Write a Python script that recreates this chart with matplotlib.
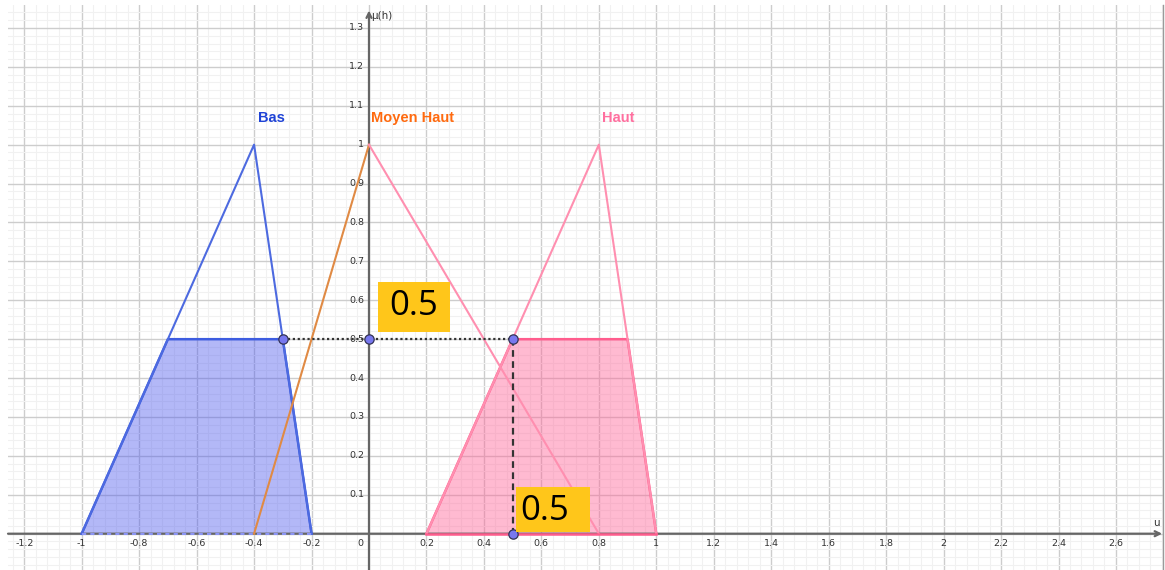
import numpy as np
import matplotlib.pyplot as plt
from matplotlib.patches import Rectangle, Polygon

# fuzzy sets: triangles (x, y) and the clipped areas at mu = 0.5
bas_x = [-1.0, -0.4, -0.2]
bas_y = [0.0, 1.0, 0.0]
moyen_x = [-0.4, 0.0, 0.8]
moyen_y = [0.0, 1.0, 0.0]
haut_x = [0.2, 0.8, 1.0]
haut_y = [0.0, 1.0, 0.0]

bas_cut_x = [-1.0, -0.7, -0.3, -0.2]
bas_cut_y = [0.0, 0.5, 0.5, 0.0]
haut_cut_x = [0.2, 0.5, 0.9, 1.0]
haut_cut_y = [0.0, 0.5, 0.5, 0.0]

pts_x = [-0.3, 0.0, 0.5, 0.5]
pts_y = [0.5, 0.5, 0.5, 0.0]

x_ticks = [-1.2, -1.0, -0.8, -0.6, -0.4, -0.2, 0, 0.2, 0.4, 0.6, 0.8, 1.0,
           1.2, 1.4, 1.6, 1.8, 2.0, 2.2, 2.4, 2.6]
x_tick_labels = ['-1.2', '-1', '-0.8', '-0.6', '-0.4', '-0.2', '0', '0.2', '0.4',
                 '0.6', '0.8', '1', '1.2', '1.4', '1.6', '1.8', '2', '2.2', '2.4', '2.6']
y_ticks = [0.1, 0.2, 0.3, 0.4, 0.5, 0.6, 0.7, 0.8, 0.9, 1.0, 1.1, 1.2, 1.3]
y_tick_labels = ['0.1', '0.2', '0.3', '0.4', '0.5', '0.6', '0.7', '0.8', '0.9',
                 '1', '1.1', '1.2', '1.3']

W, H = 1165, 570
fig = plt.figure(figsize=(W / 100, H / 100), dpi=100)
ax = fig.add_axes([8 / W, 0, (1163 - 8) / W, (H - 5) / H])
xmin, xmax = -1.2565, 2.7637
ymin, ymax = -0.0933, 1.359
ax.set_xlim(xmin, xmax)
ax.set_ylim(ymin, ymax)

# grid
ax.set_xticks(np.arange(-1.2, 2.8, 0.2))
ax.set_xticks(np.arange(-1.24, 2.8, 0.04), minor=True)
ax.set_yticks(np.arange(-0.0, 1.4, 0.1))
ax.set_yticks(np.arange(-0.08, 1.36, 0.02), minor=True)
ax.grid(which='major', color='#cdcdcd', lw=1.0)
ax.grid(which='minor', color='#f1f1f1', lw=0.8)
ax.set_axisbelow(True)
ax.tick_params(which='both', length=0, labelbottom=False, labelleft=False)
for s in ['top', 'left', 'bottom']:
    ax.spines[s].set_visible(False)
ax.spines['right'].set_color('#9a9a9a')
ax.spines['right'].set_linewidth(1.0)

# axes with arrows
ax.annotate('', xy=(xmax - 0.003, 0), xytext=(xmin, 0),
            arrowprops=dict(arrowstyle='->', color='#666666', lw=1.6,
                            shrinkA=0, shrinkB=0, mutation_scale=9))
ax.annotate('', xy=(0, 1.345), xytext=(0, ymin),
            arrowprops=dict(arrowstyle='->', color='#666666', lw=1.6,
                            shrinkA=0, shrinkB=0, mutation_scale=9))
ax.text(2.74, 0.015, 'u', fontsize=7.5, color='#333333', ha='center', va='bottom')
ax.text(0.006, 1.33, 'μ(h)', fontsize=7.5, color='#333333', ha='left', va='center')

for v, lab in zip(x_ticks, x_tick_labels):
    xx = -0.03 if v == 0 else v
    ax.text(xx, -0.024, lab, fontsize=6.8, color='#333333', ha='center', va='center')
for v, lab in zip(y_ticks, y_tick_labels):
    ax.text(-0.017, v, lab, fontsize=6.8, color='#333333', ha='right', va='center')

# clipped areas
ax.add_patch(Polygon(list(zip(bas_cut_x, bas_cut_y)), closed=True,
                     facecolor='#4a56ee', alpha=0.42, edgecolor='none', zorder=2))
ax.plot(bas_cut_x, bas_cut_y, color='#3d5ce0', lw=1.8, zorder=3)
ax.plot([bas_cut_x[0], bas_cut_x[3]], [0, 0], color='#8c95f5', lw=1.5, ls=(0, (2, 2)), zorder=4)
ax.add_patch(Polygon(list(zip(haut_cut_x, haut_cut_y)), closed=True,
                     facecolor='#ff6699', alpha=0.45, edgecolor='none', zorder=2))
ax.plot(haut_cut_x, haut_cut_y, color='#ff5c8d', lw=1.8, zorder=3)
ax.plot([haut_cut_x[0], haut_cut_x[3]], [0, 0], color='#ff5c8d', lw=1.8, zorder=4)

# triangles
ax.plot(bas_x, bas_y, color='#4d6ae0', lw=1.5, zorder=3)
ax.plot(moyen_x[:2], moyen_y[:2], color='#e08a44', lw=1.5, zorder=3)
ax.plot(moyen_x[1:], moyen_y[1:], color='#ff8fb0', lw=1.5, zorder=3)
ax.plot(haut_x, haut_y, color='#ff8fb0', lw=1.5, zorder=3)

ax.text(bas_x[1] + 0.012, 1.068, 'Bas', color='#1f43d6', fontsize=10.5,
        fontweight='bold', family='Liberation Sans', ha='left', va='center')
ax.text(moyen_x[1] + 0.007, 1.068, 'Moyen Haut', color='#ff6a0f', fontsize=10.5,
        fontweight='bold', family='Liberation Sans', ha='left', va='center')
ax.text(haut_x[1] + 0.012, 1.068, 'Haut', color='#ff6f9f', fontsize=10.5,
        fontweight='bold', family='Liberation Sans', ha='left', va='center')

# projection lines and points
ax.plot([pts_x[0], pts_x[2]], [pts_y[0], pts_y[2]], color='#333333', lw=1.6,
        ls=(0, (1, 1.2)), zorder=5)
ax.plot([pts_x[2], pts_x[3]], [pts_y[2], pts_y[3]], color='#333333', lw=1.6,
        ls=(0, (3, 2)), zorder=5)
ax.scatter(pts_x, pts_y, s=45, color='#7878ef', edgecolor='#333355', lw=0.9, zorder=6)

# value boxes
ax.add_patch(Rectangle((0.031, 0.519), 0.251, 0.129, facecolor='#ffc61a',
                       edgecolor='none', zorder=7))
ax.text(0.156, 0.585, '0.5', fontsize=25, color='black', family='Open Sans',
        ha='center', va='center', zorder=8)
ax.add_patch(Rectangle((0.512, 0.005), 0.258, 0.116, facecolor='#ffc61a',
                       edgecolor='none', zorder=7))
ax.text(0.528, 0.058, '0.5', fontsize=25, color='black', family='Open Sans',
        ha='left', va='center', zorder=8)

fig.savefig('out.png', dpi=100)
